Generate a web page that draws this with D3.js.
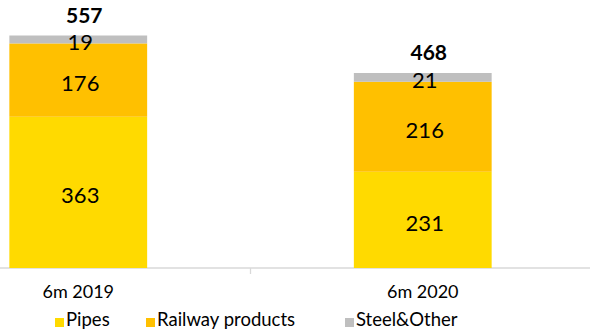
<!DOCTYPE html>
<html>
<head>
<meta charset="utf-8">
<script src="https://cdn.jsdelivr.net/npm/d3@7"></script>
<style>
  body { margin: 0; background: #fff; }
  svg { display: block; font-family: Lato, "Open Sans", sans-serif; }
</style>
</head>
<body>
<svg width="590" height="332"></svg>
<script>
// data
var categories = ["6m 2019", "6m 2020"];
var seriesNames = ["Pipes", "Railway products", "Steel&Other"];
var pipes = [363, 231];
var railway = [176, 216];
var steel = [19, 21];
var totals = [557, 468];

var colors = ["#FFDA00", "#FFC000", "#BFBFBF"];

var svg = d3.select("svg");

var rows = categories.map(function(c, i) {
  return { cat: c, "Pipes": pipes[i], "Railway products": railway[i], "Steel&Other": steel[i], total: totals[i] };
});

var x = d3.scaleBand()
    .domain(categories)
    .range([-94, 595])
    .paddingInner(0.6)
    .paddingOuter(0.3);

var y = d3.scaleLinear()
    .domain([0, 600])
    .range([268, 18]);

var stack = d3.stack().keys(seriesNames);
var layers = stack(rows);

// axis line + middle tick
svg.append("line")
    .attr("x1", 0).attr("x2", 590)
    .attr("y1", y(0)).attr("y2", y(0))
    .attr("stroke", "#d9d9d9").attr("stroke-width", 1.3);

var bx = x(categories[1]) - x.step() * x.paddingInner() / 2;
svg.append("line")
    .attr("x1", bx).attr("x2", bx)
    .attr("y1", y(0)).attr("y2", y(0) + 6)
    .attr("stroke", "#d9d9d9").attr("stroke-width", 1.3);

// bars
var g = svg.selectAll(".layer")
  .data(layers)
  .enter().append("g")
    .attr("class", "layer")
    .attr("fill", function(d, i) { return colors[i]; });

g.selectAll("rect")
  .data(function(d) { return d; })
  .enter().append("rect")
    .attr("x", function(d) { return x(d.data.cat); })
    .attr("width", x.bandwidth())
    .attr("y", function(d) { return y(d[1]); })
    .attr("height", function(d) { return y(d[0]) - y(d[1]); });

// segment labels
g.selectAll("text")
  .data(function(d) { return d; })
  .enter().append("text")
    .attr("x", function(d) { return x(d.data.cat) + x.bandwidth() / 2 + 2; })
    .attr("y", function(d) { return (y(d[0]) + y(d[1])) / 2 + 11; })
    .attr("text-anchor", "middle")
    .attr("fill", "#000")
    .style("font-size", "22px")
    .text(function(d) { return d[1] - d[0]; });

// totals
svg.selectAll(".total")
  .data(rows)
  .enter().append("text")
    .attr("class", "total")
    .attr("x", function(d) { return x(d.cat) + x.bandwidth() / 2 + 6; })
    .attr("y", function(d) { return y(d.total) - 13; })
    .attr("text-anchor", "middle")
    .style("font-size", "21px")
    .style("font-weight", "bold")
    .text(function(d) { return d.total; });

// category labels
svg.selectAll(".cat")
  .data(categories)
  .enter().append("text")
    .attr("class", "cat")
    .attr("x", function(d) { return x(d) + x.bandwidth() / 2; })
    .attr("y", 298)
    .attr("text-anchor", "middle")
    .style("font-size", "18px")
    .text(function(d) { return d; });

// legend
var legendX = [55, 146, 345];
var lg = svg.selectAll(".leg")
  .data(seriesNames)
  .enter().append("g")
    .attr("class", "leg")
    .attr("transform", function(d, i) { return "translate(" + legendX[i] + ",318)"; });

lg.append("rect")
    .attr("width", 9).attr("height", 9)
    .attr("fill", function(d, i) { return colors[i]; });

lg.append("text")
    .attr("x", 11)
    .attr("y", 7.5)
    .style("font-size", "18.5px")
    .text(function(d) { return d; });
</script>
</body>
</html>
